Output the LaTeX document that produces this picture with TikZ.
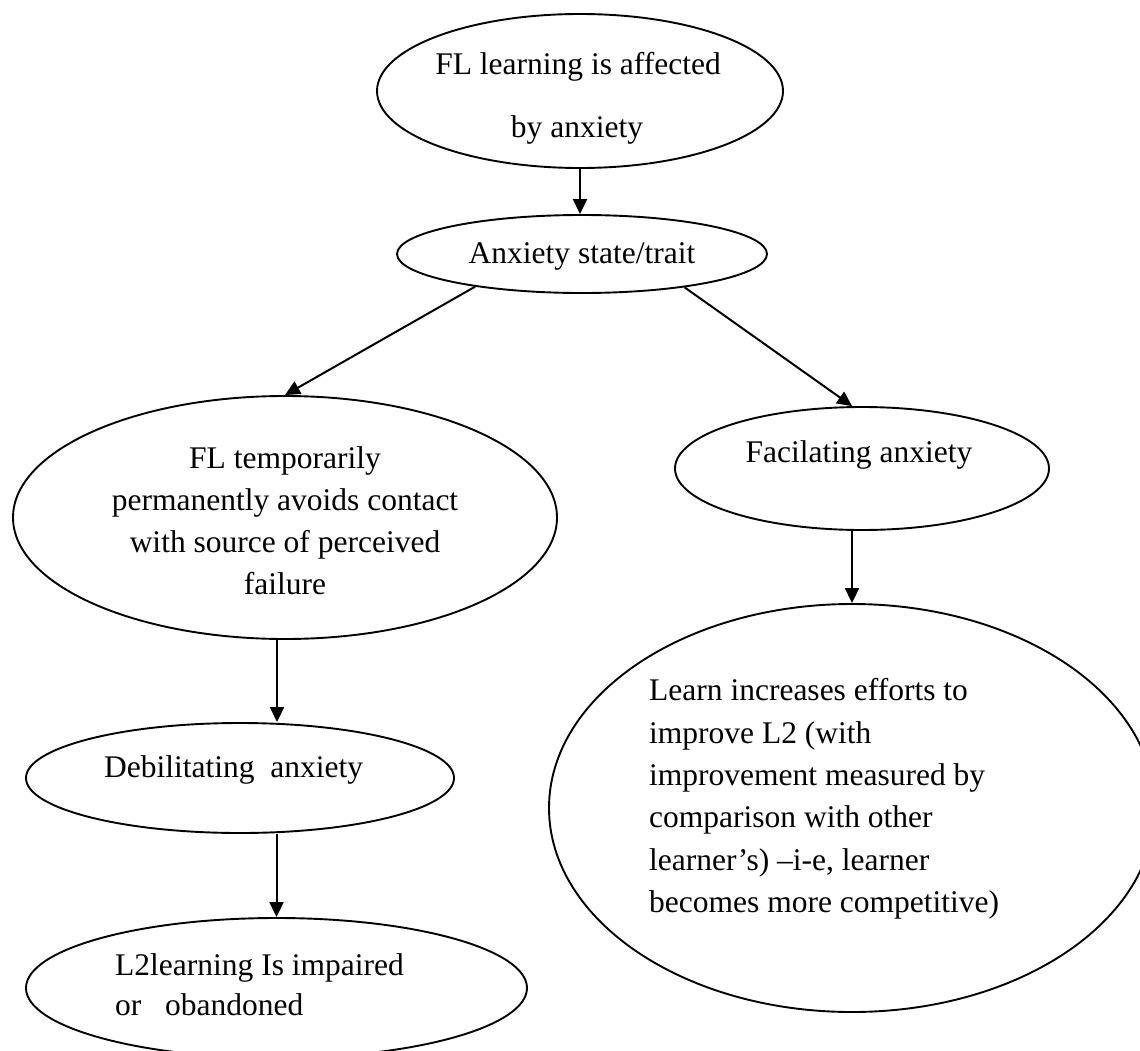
\documentclass[tikz,border=0pt]{standalone}
\usepackage{fontspec}
\setmainfont{Liberation Serif}
\usetikzlibrary{shapes.geometric,arrows.meta}
\begin{document}
\begin{tikzpicture}[x=1pt,y=-1pt,
  oval/.style={draw, ellipse, line width=1.9pt, inner sep=0pt},
  conn/.style={line width=2pt, -{Triangle[length=15pt,width=14pt]}},
  txt/.style={anchor=base, inner sep=0pt, font=\fontsize{31.5}{42}\selectfont},
  txtl/.style={txt, anchor=base west}]
\useasboundingbox (0,0) rectangle (1140,1051);
\clip (0,0) rectangle (1140,1051);
% ellipses
\node[oval, minimum width=406pt, minimum height=154pt] (top) at (580,91) {};
\node[oval, minimum width=370pt, minimum height=78pt] (anx) at (582,254) {};
\node[oval, minimum width=544pt, minimum height=243pt] (left) at (285,517.5) {};
\node[oval, minimum width=374pt, minimum height=123pt] (facil) at (862,468.5) {};
\node[oval, minimum width=606pt, minimum height=408pt] (right) at (852,808) {};
\node[oval, minimum width=428pt, minimum height=110pt] (debil) at (240,778) {};
\node[oval, minimum width=501pt, minimum height=140pt] (ltwo) at (276.5,988) {};
% texts
\node[txt] (t1) at (578,75) {FL learning is affected};
\node[txt] (t2) at (577,138) {by anxiety};
\node[txt] (t3) at (582,263) {Anxiety state/trait};
\node[txt] (t4) at (285,468) {FL temporarily};
\node[txt] (t5) at (285,510) {permanently avoids contact};
\node[txt] (t6) at (285,552) {with source of perceived};
\node[txt] (t7) at (285,594) {failure};
\node[txt] (t8) at (859,462) {Facilating anxiety};
\node[txtl] (t9) at (104,777) {Debilitating\ \ anxiety};
\node[txtl] (t10) at (115,975) {L2learning Is impaired};
\node[txtl] (t11) at (115,1015) {or\ \ \ obandoned};
\node[txtl] (r1) at (649,700) {Learn increases efforts to};
\node[txtl] (r2) at (649,743) {improve L2 (with};
\node[txtl] (r3) at (649,785) {improvement measured by};
\node[txtl] (r4) at (649,827) {comparison with other};
\node[txtl] (r5) at (649,870) {learner’s) –i-e, learner};
\node[txtl] (r6) at (649,912) {becomes more competitive)};
% connectors
\draw[conn] (top.south) -- (top.south |- anx.north);
\draw[conn] (anx.197) -- (left.north);
\draw[conn] (anx.-18) -- (facil.99);
\draw[conn] ([xshift=-8pt]left.south) -- ([xshift=-8pt]left.south |- debil.north);
\draw[conn] (ltwo.north |- debil.south) -- (ltwo.north);
\draw[conn] (right.north |- facil.south) -- (right.north);
\end{tikzpicture}
\end{document}
